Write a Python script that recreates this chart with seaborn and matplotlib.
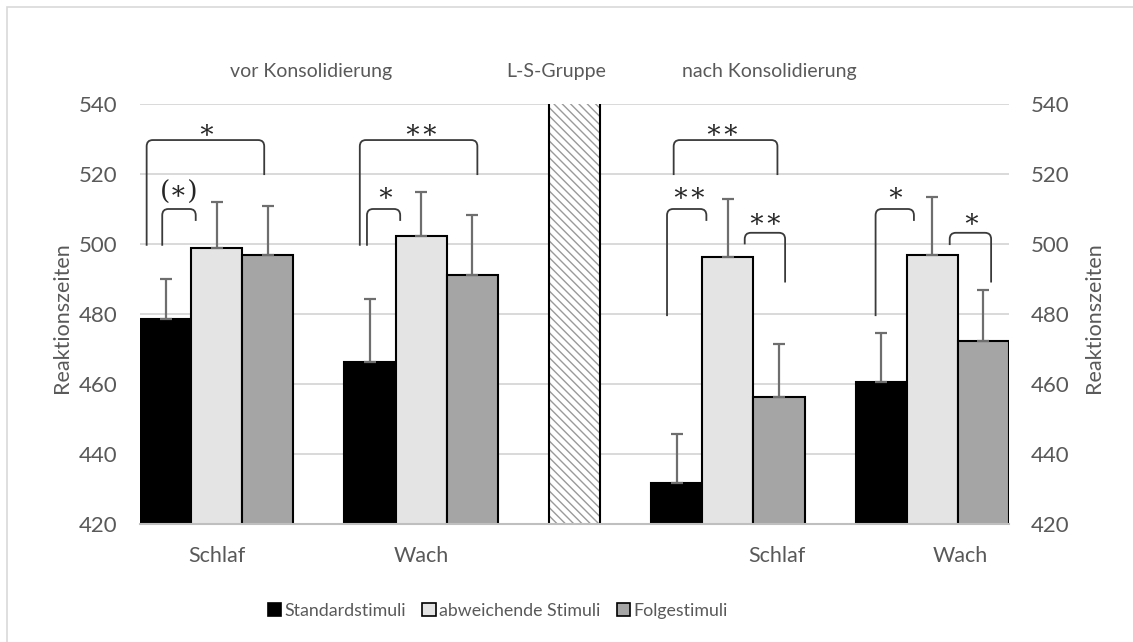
import numpy as np
import pandas as pd
import matplotlib
matplotlib.use("Agg")
import matplotlib.pyplot as plt
from matplotlib.patches import Patch, Rectangle, PathPatch
from matplotlib.path import Path
import seaborn as sns

# ── Data ─────────────────────────────────────────────────
group_labels = ["Schlaf", "Wach", "Schlaf", "Wach"]
group_start = [0, 4, 10, 14]          # left edge of first bar, in bar widths
label_pos = [1.5, 5.5, 12.45, 16.05]
series_names = ["Standardstimuli", "abweichende Stimuli", "Folgestimuli"]
series_colors = ["#000000", "#e4e4e4", "#a5a5a5"]

standard = [478.6, 466.2, 431.8, 460.6]
standard_err = [11.5, 18.2, 13.9, 13.9]
abweichend = [498.9, 502.4, 496.3, 497.0]
abweichend_err = [13.0, 12.6, 16.5, 16.4]
folge = [496.8, 491.2, 456.2, 472.2]
folge_err = [14.0, 17.2, 15.3, 14.8]

ls_pos = [8.5]      # L-S-Gruppe separator bar
ls_val = [540]

# significance brackets: x left, y left, x right, y right, y top, text, text x, text y
brackets = [
    (0.13, 499.5, 2.43, 519.7, 529.7, "∗", 1.29, 532.8),
    (0.435, 499.5, 1.09, 506.6, 510.0, "(∗)", 0.77, 514.8),
    (4.30, 499.5, 6.60, 519.7, 529.7, "∗∗", 5.50, 532.8),
    (4.44, 499.5, 5.09, 506.6, 510.0, "∗", 4.79, 514.6),
    (10.44, 519.7, 12.47, 519.7, 529.7, "∗∗", 11.39, 532.8),
    (10.31, 479.4, 11.08, 506.6, 510.0, "∗∗", 10.74, 514.6),
    (11.83, 499.9, 12.62, 489.0, 503.2, "∗∗", 12.23, 507.2),
    (14.39, 479.4, 15.14, 506.6, 510.0, "∗", 14.77, 514.6),
    (15.84, 499.7, 16.65, 489.0, 503.2, "∗", 16.25, 507.2),
]

values = [standard, abweichend, folge]
errors = [standard_err, abweichend_err, folge_err]
rows = []
for gi, start in enumerate(group_start):
    for si, name in enumerate(series_names):
        rows.append({"pos": start + si + 0.5, "stim": name,
                     "rt": values[si][gi], "err": errors[si][gi]})
df = pd.DataFrame(rows)

# ── Style ────────────────────────────────────────────────
sns.set_style("white")
plt.rcParams["font.family"] = ["Lato", "DejaVu Sans"]
plt.rcParams["hatch.linewidth"] = 1.0
txt_col = "#595959"

fig = plt.figure(figsize=(11.33, 6.42), dpi=100)
ax = fig.add_axes([140/1133, 1-524/642, (1009-140)/1133, (524-104)/642])

sns.barplot(data=df, x="pos", y="rt", hue="stim", hue_order=series_names,
            palette=series_colors, native_scale=True, dodge=False, width=1.0,
            saturation=1, errorbar=None, edgecolor="black", linewidth=1.5,
            legend=False, ax=ax, zorder=2)

ax.errorbar(df["pos"], df["rt"], yerr=[np.zeros(len(df)), df["err"]],
            fmt="none", ecolor="#6e6e6e", elinewidth=1.6, capsize=4.3,
            capthick=1.6, zorder=3)

# hatched L-S-Gruppe bar (sides only, no top edge)
ax.bar(ls_pos, ls_val, width=1.0, color="white", edgecolor="#9a9a9a",
       hatch="\\\\\\\\", linewidth=0, zorder=2)
ax.vlines([ls_pos[0] - 0.5, ls_pos[0] + 0.5], 420, ls_val[0],
          color="black", linewidth=1.5, zorder=2)

ax.set_xlim(0, 17)
ax.set_ylim(420, 540)
ax.set_yticks(np.arange(420, 541, 20))
ax.yaxis.grid(True, color="#d9d9d9", linewidth=1.4, zorder=0)
ax.set_axisbelow(True)
for s in ["top", "left", "right"]:
    ax.spines[s].set_visible(False)
ax.spines["bottom"].set_color("#bfbfbf")
ax.spines["bottom"].set_linewidth(1.5)
ax.set_xticks(label_pos)
ax.set_xticklabels(group_labels)
ax.tick_params(axis="x", length=0, pad=16, labelsize=15.5, labelcolor=txt_col)
ax.tick_params(axis="y", length=0, pad=16, labelsize=16, labelcolor=txt_col)
ax.set_xlabel("")
ax.set_ylabel("")

ax2 = ax.twinx()
ax2.set_ylim(420, 540)
ax2.set_yticks(np.arange(420, 541, 20))
ax2.tick_params(axis="y", length=0, pad=16, labelsize=16, labelcolor=txt_col)
for s in ["top", "left", "right", "bottom"]:
    ax2.spines[s].set_visible(False)

# brackets
rx, ry = 0.12, 1.8
for x1, y1, x2, y2, top, lab, tx, ty in brackets:
    verts = [(x1, y1), (x1, top - ry), (x1, top), (x1 + rx, top),
             (x2 - rx, top), (x2, top), (x2, top - ry), (x2, y2)]
    codes = [Path.MOVETO, Path.LINETO, Path.CURVE3, Path.CURVE3,
             Path.LINETO, Path.CURVE3, Path.CURVE3, Path.LINETO]
    ax.add_patch(PathPatch(Path(verts, codes), fill=False,
                           edgecolor="#3a3a3a", linewidth=1.3, zorder=4))
    ax.text(tx, ty, lab, ha="center", va="center", fontsize=19,
            family=["DejaVu Serif"], color="#262626", zorder=5)

# y labels and header texts
fig.text(62/1133, 1-318/642, "Reaktionszeiten", rotation=90, ha="center",
         va="center", fontsize=15.5, color=txt_col)
fig.text(1094/1133, 1-318/642, "Reaktionszeiten", rotation=90, ha="center",
         va="center", fontsize=15.5, color=txt_col)
fig.text(311/1133, 1-72/642, "vor Konsolidierung", ha="center", va="center",
         fontsize=14, color=txt_col)
fig.text(556/1133, 1-72/642, "L-S-Gruppe", ha="center", va="center",
         fontsize=14, color=txt_col)
fig.text(769/1133, 1-72/642, "nach Konsolidierung", ha="center", va="center",
         fontsize=14, color=txt_col)

handles = [Patch(facecolor=c, edgecolor="black", linewidth=1.2)
           for c in series_colors]
fig.legend(handles, series_names, loc="center",
           bbox_to_anchor=(498/1133, 1-611/642), ncol=3, frameon=False,
           handlelength=0.75, handleheight=0.75, handletextpad=0.2,
           columnspacing=0.9, fontsize=12.8, labelcolor=txt_col)

# chart area border
fig.patches.append(Rectangle((7/1133, -0.05), 1.1, 1.05 - 7/642,
                             transform=fig.transFigure, fill=False,
                             edgecolor="#d9d9d9", linewidth=1.2))

fig.savefig("out.png", dpi=100)
